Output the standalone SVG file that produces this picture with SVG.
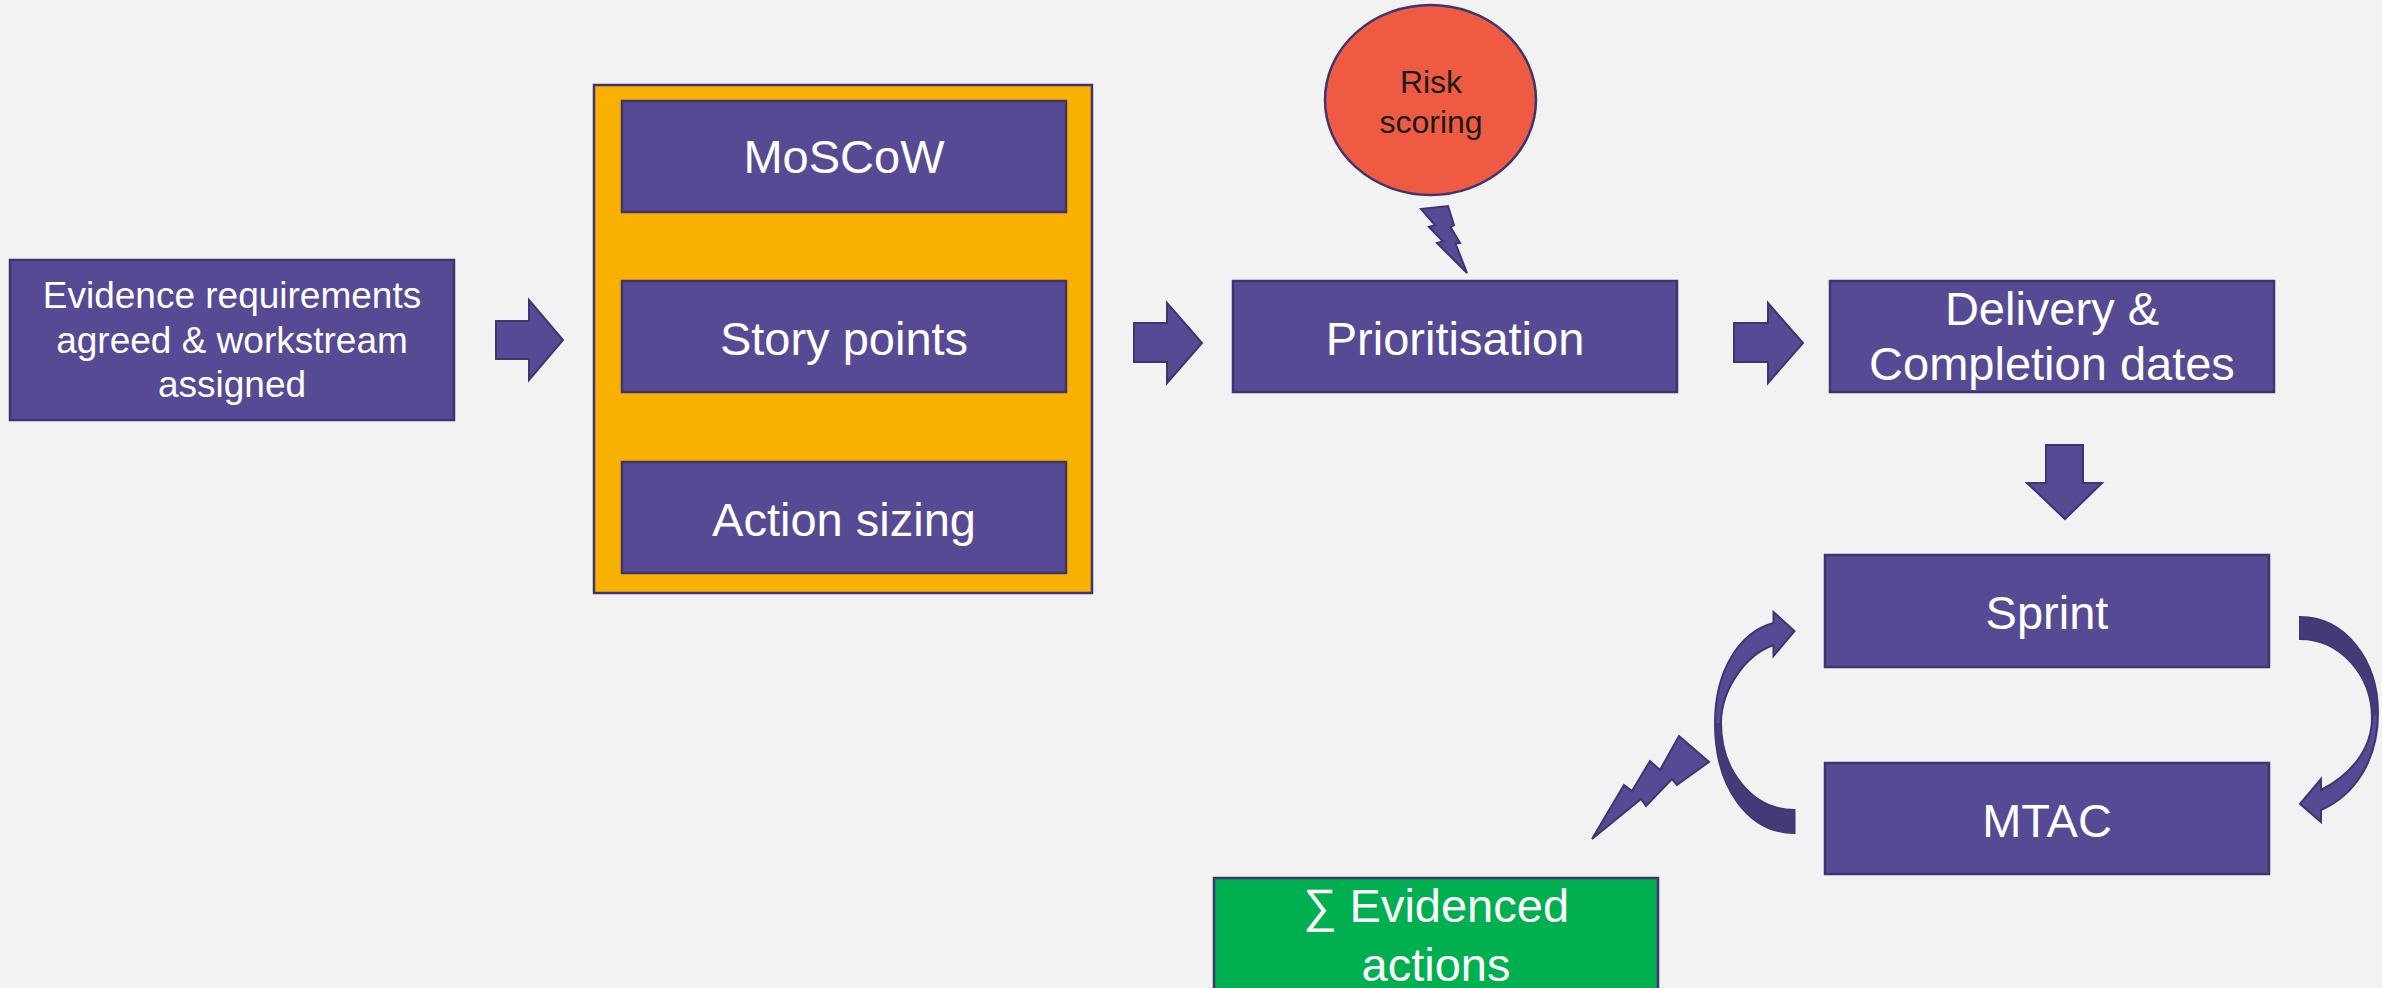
<svg xmlns="http://www.w3.org/2000/svg" width="2382" height="988" viewBox="0 0 2382 988">
<defs>
<style>
.box{fill:#574A94;stroke:#3E3470;stroke-width:2.5}
.arr{fill:#574A94;stroke:#3E3470;stroke-width:2;stroke-linejoin:miter}
.dark{fill:#433A78;stroke:none}
.t{font-family:"Liberation Sans",Arial,sans-serif;fill:#FFFFFF;text-anchor:middle}
.t47{font-size:47px}
</style>
</defs>
<rect x="0" y="0" width="2382" height="988" fill="#F2F2F2"/>

<g id="connectors">
<path class="arr" d="M496,321 H529 V300 L563,340 L529,380 V359 H496 Z"/>
<path class="arr" d="M1134,323 H1167 V303 L1202,343 L1167,383 V362 H1134 Z"/>
<path class="arr" d="M1734,323 H1768 V303 L1803,343 L1768,383 V362 H1734 Z"/>
<path class="arr" d="M2046,445 H2083 V483 H2102 L2065,519 L2027,483 H2046 Z"/>
<!-- lightning from risk scoring -->
<path class="arr" d="M1421,209 L1448,206 L1454,225 L1450.5,227 L1460,243 L1455.5,243.5 L1467,273 L1437,243 L1443,241.5 L1429,227 L1435,225 Z"/>
<!-- lightning to evidenced actions -->
<path class="arr" d="M1679,736 L1709,762 L1677,785 L1672,779 L1646,806 L1641,799 L1592,839 L1624,785 L1632,791 L1650,761 L1660,770 Z"/>
<!-- left curved arrow (MTAC -> Sprint) -->
<path class="arr" d="M1794.5,833 C1750,833 1715,790 1715,723 C1715,670 1740,632 1773.5,623 L1773.5,612 L1794.5,631 L1773.5,656 L1773.5,645 C1745,655 1721,690 1721,723 C1721,770 1752,810 1794.5,810 Z"/>
<path class="dark" d="M1794.5,833 C1750,833 1715,790 1715,723 L1721,723 C1721,770 1752,810 1794.5,810 Z"/>
<!-- right curved arrow (Sprint -> MTAC) -->
<path class="arr" d="M2300,617 C2345,617 2378,660 2378,713 C2378,760 2355,795 2321,810 L2321,822 L2300,804 L2321,779 L2321,790 C2350,775 2372,750 2372,718 C2372,675 2340,639 2300,639 Z"/>
<path class="dark" d="M2300,617 C2345,617 2378,660 2378,713 L2372,718 C2372,675 2340,639 2300,639 Z"/>
</g>

<g id="evidence-requirements">
<rect class="box" x="10" y="260" width="444" height="160"/>
<text class="t" font-size="37" x="232" y="308">Evidence requirements</text>
<text class="t" font-size="37" x="232" y="353">agreed &amp; workstream</text>
<text class="t" font-size="37" x="232" y="397">assigned</text>
</g>

<g id="estimation-group">
<rect x="594" y="85" width="498" height="508" fill="#F8B100" stroke="#3E3470" stroke-width="2.5"/>
</g>
<g id="moscow">
<rect class="box" x="622" y="101" width="444" height="111"/>
<text class="t t47" x="844" y="173">MoSCoW</text>
</g>
<g id="story-points">
<rect class="box" x="622" y="281" width="444" height="111"/>
<text class="t t47" x="844" y="355">Story points</text>
</g>
<g id="action-sizing">
<rect class="box" x="622" y="462" width="444" height="111"/>
<text class="t t47" x="844" y="536">Action sizing</text>
</g>

<g id="risk-scoring">
<ellipse cx="1430.5" cy="100" rx="105.5" ry="95" fill="#EF5B42" stroke="#3E3470" stroke-width="2.5"/>
<text x="1431" y="93" font-size="32" font-family="Liberation Sans, Arial, sans-serif" fill="#1A1A1A" text-anchor="middle">Risk</text>
<text x="1431" y="133" font-size="32" font-family="Liberation Sans, Arial, sans-serif" fill="#1A1A1A" text-anchor="middle">scoring</text>
</g>

<g id="prioritisation">
<rect class="box" x="1233" y="281" width="444" height="111"/>
<text class="t t47" x="1455" y="355">Prioritisation</text>
</g>

<g id="delivery-dates">
<rect class="box" x="1830" y="281" width="444" height="111"/>
<text class="t t47" x="2052" y="325">Delivery &amp;</text>
<text class="t t47" x="2052" y="380">Completion dates</text>
</g>

<g id="sprint">
<rect class="box" x="1825" y="555" width="444" height="112"/>
<text class="t t47" x="2047" y="629">Sprint</text>
</g>

<g id="mtac">
<rect class="box" x="1825" y="763" width="444" height="111"/>
<text class="t t47" x="2047" y="837">MTAC</text>
</g>

<g id="evidenced-actions">
<rect x="1214" y="878" width="444" height="120" fill="#00B050" stroke="#3E3470" stroke-width="2.5"/>
<text class="t t47" x="1436" y="922">∑ Evidenced</text>
<text class="t t47" x="1436" y="981">actions</text>
</g>
</svg>
